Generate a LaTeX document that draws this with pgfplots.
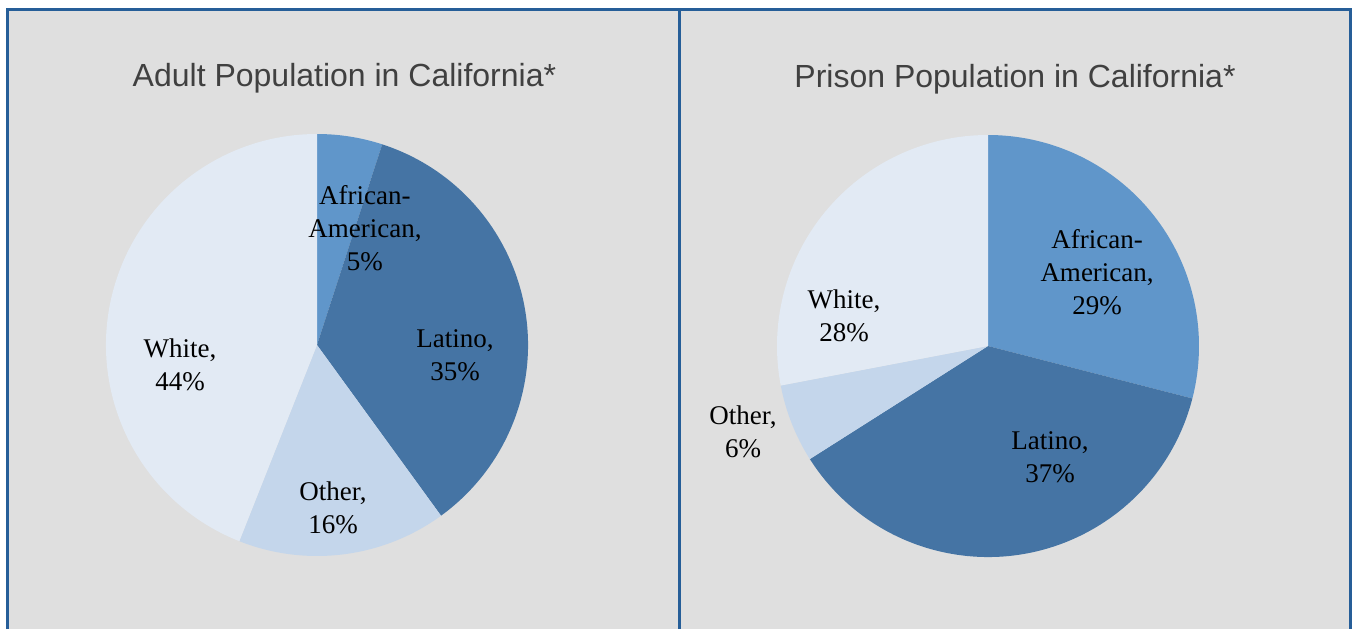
\documentclass[border=0pt]{standalone}
\usepackage{pgfplots}
\pgfplotsset{compat=1.18}
\usepackage{pgfplotstable}
\usepackage{fontspec}
\setmainfont{Liberation Serif}
\newfontfamily\titlefont{Liberation Sans}

\definecolor{bgcol}{RGB}{223,223,223}
\definecolor{framecol}{RGB}{38,94,152}
\definecolor{aacol}{RGB}{96,150,202}
\definecolor{latcol}{RGB}{69,116,164}
\definecolor{othcol}{RGB}{196,214,235}
\definecolor{whtcol}{RGB}{226,234,244}

% share of each group, in percent, clockwise from 12 o'clock
\pgfplotstableread{
group value color
AA 5 aacol
Latino 35 latcol
Other 16 othcol
White 44 whtcol
}\adulttbl

\pgfplotstableread{
group value color
AA 29 aacol
Latino 37 latcol
Other 6 othcol
White 28 whtcol
}\prisontbl

% radius of a pie on the page (axis is 2 units = 211pt wide)
\def\pierad{105.5pt}

\newcommand{\pieslices}[1]{%
  \pgfplotstablegetrowsof{#1}%
  \pgfmathtruncatemacro\lastrow{\pgfplotsretval-1}%
  \def\curangle{90}%
  \pgfplotsforeachungrouped \i in {0,...,\lastrow}{%
    \pgfplotstablegetelem{\i}{value}\of{#1}%
    \pgfmathsetmacro\nextangle{\curangle-3.6*\pgfplotsretval}%
    \pgfplotstablegetelem{\i}{color}\of{#1}%
    \let\slicecol\pgfplotsretval
    \edef\doslice{\noexpand\fill[\slicecol] (axis cs:0,0) --
      (axis cs:{cos(\curangle)},{sin(\curangle)})
      arc[start angle=\curangle, end angle=\nextangle, radius=\pierad] -- cycle;}%
    \doslice
    \let\curangle\nextangle
  }%
}

\pgfplotsset{
  pieaxis/.style={
    hide axis, scale only axis, clip=false,
    width=211pt, height=211pt,
    xmin=-1, xmax=1, ymin=-1, ymax=1,
    anchor=center,
  },
}
\tikzset{
  lbl/.style={align=center, font=\fontsize{13.5}{16.5}\selectfont, text=black},
  ttl/.style={anchor=base, font=\titlefont\fontsize{16}{19}\selectfont, text=black!75},
}

\begin{document}
\begin{tikzpicture}[x=1pt,y=1pt]
  % panel background and frame
  \fill[bgcol] (3.5,0) rectangle (675,310);
  \draw[framecol, line width=1.5pt] (3.5,0) -- (3.5,310) -- (675,310) -- (675,0);
  \draw[framecol, line width=1.5pt] (339.5,0) -- (339.5,310);

  \begin{axis}[pieaxis, at={(158.5pt,142pt)}]
    \pieslices{\adulttbl}
    \node[ttl] at (axis cs:0.130,1.223) {Adult Population in California*};
    \node[lbl] at (axis cs:0.227,0.555) {African-\\American,\\5\%};
    \node[lbl] at (axis cs:0.654,-0.047) {Latino,\\35\%};
    \node[lbl] at (axis cs:0.076,-0.773) {Other,\\16\%};
    \node[lbl] at (axis cs:-0.649,-0.095) {White,\\44\%};
  \end{axis}

  \begin{axis}[pieaxis, at={(494pt,141.5pt)}]
    \pieslices{\prisontbl}
    \node[ttl] at (axis cs:0.128,1.227) {Prison Population in California*};
    \node[lbl] at (axis cs:0.517,0.351) {African-\\American,\\29\%};
    \node[lbl] at (axis cs:0.294,-0.526) {Latino,\\37\%};
    \node[lbl] at (axis cs:-1.161,-0.408) {Other,\\6\%};
    \node[lbl] at (axis cs:-0.682,0.142) {White,\\28\%};
  \end{axis}

  \pgfresetboundingbox
  \path[use as bounding box] (0,0) rectangle (677,314.5);
\end{tikzpicture}
\end{document}
